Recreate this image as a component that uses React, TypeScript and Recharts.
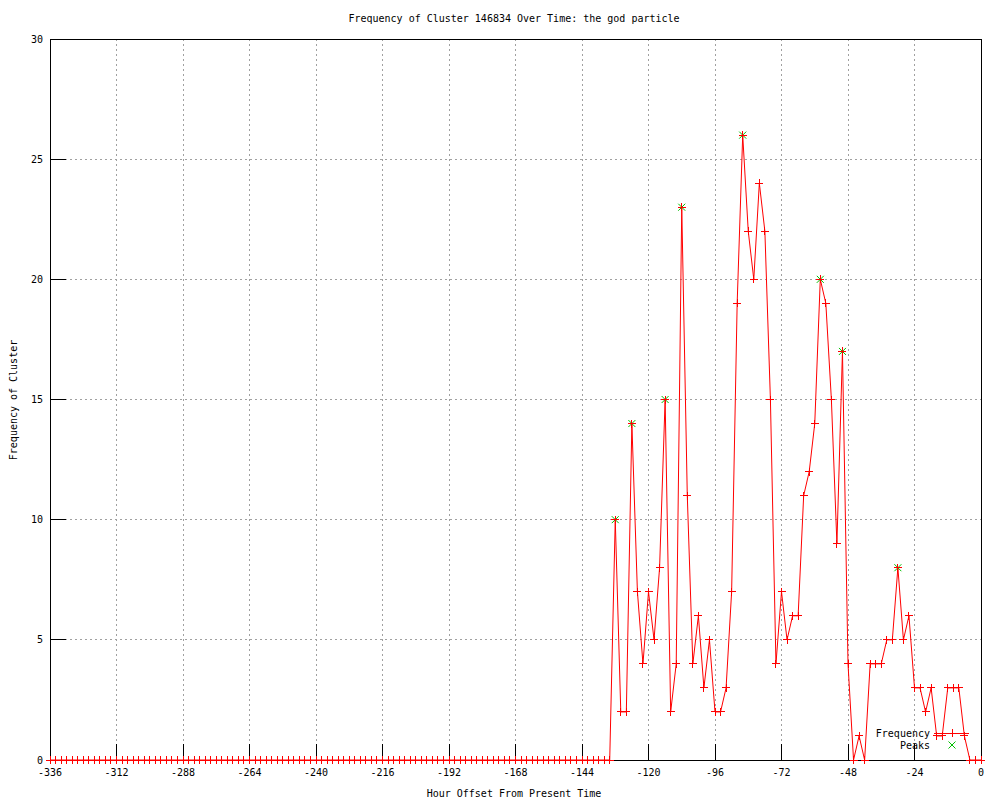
import { LineChart, Line, XAxis, YAxis, CartesianGrid, Customized } from 'recharts';

const hours = [
  -336, -334, -332, -330, -328, -326, -324, -322, -320, -318, -316, -314,
  -312, -310, -308, -306, -304, -302, -300, -298, -296, -294, -292, -290,
  -288, -286, -284, -282, -280, -278, -276, -274, -272, -270, -268, -266,
  -264, -262, -260, -258, -256, -254, -252, -250, -248, -246, -244, -242,
  -240, -238, -236, -234, -232, -230, -228, -226, -224, -222, -220, -218,
  -216, -214, -212, -210, -208, -206, -204, -202, -200, -198, -196, -194,
  -192, -190, -188, -186, -184, -182, -180, -178, -176, -174, -172, -170,
  -168, -166, -164, -162, -160, -158, -156, -154, -152, -150, -148, -146,
  -144, -142, -140, -138, -136, -134, -132, -130, -128, -126, -124, -122,
  -120, -118, -116, -114, -112, -110, -108, -106, -104, -102, -100, -98,
  -96, -94, -92, -90, -88, -86, -84, -82, -80, -78, -76, -74,
  -72, -70, -68, -66, -64, -62, -60, -58, -56, -54, -52, -50,
  -48, -46, -44, -42, -40, -38, -36, -34, -32, -30, -28, -26,
  -24, -22, -20, -18, -16, -14, -12, -10, -8, -6, -4, -2,
  0,
];

const frequency = [
  0, 0, 0, 0, 0, 0, 0, 0, 0, 0, 0, 0,
  0, 0, 0, 0, 0, 0, 0, 0, 0, 0, 0, 0,
  0, 0, 0, 0, 0, 0, 0, 0, 0, 0, 0, 0,
  0, 0, 0, 0, 0, 0, 0, 0, 0, 0, 0, 0,
  0, 0, 0, 0, 0, 0, 0, 0, 0, 0, 0, 0,
  0, 0, 0, 0, 0, 0, 0, 0, 0, 0, 0, 0,
  0, 0, 0, 0, 0, 0, 0, 0, 0, 0, 0, 0,
  0, 0, 0, 0, 0, 0, 0, 0, 0, 0, 0, 0,
  0, 0, 0, 0, 0, 0, 10, 2, 2, 14, 7, 4,
  7, 5, 8, 15, 2, 4, 23, 11, 4, 6, 3, 5,
  2, 2, 3, 7, 19, 26, 22, 20, 24, 22, 15, 4,
  7, 5, 6, 6, 11, 12, 14, 20, 19, 15, 9, 17,
  4, 0, 1, 0, 4, 4, 4, 5, 5, 8, 5, 6,
  3, 3, 2, 3, 1, 1, 3, 3, 3, 1, 0, 0,
  0,
];

const peakHours = [-132, -126, -114, -108, -86, -58, -50, -30];

const xTicks = [-336, -312, -288, -264, -240, -216, -192, -168, -144, -120, -96, -72, -48, -24, 0];
const yTicks = [0, 5, 10, 15, 20, 25, 30];

const data = hours.map((h, i) => ({
  hour: h,
  freq: frequency[i],
  peak: peakHours.includes(h) ? frequency[i] : null,
}));

const FONT = '"DejaVu Sans Mono", monospace';
const PLOT_LEFT = 50;
const PLOT_BOTTOM = 760;
const AXIS_LINE = { stroke: '#000', shapeRendering: 'crispEdges' };

function PlusDot(props: any) {
  const { cx, cy, index } = props;
  if (cx == null || cy == null) return <g key={`f-${index}`} />;
  return (
    <g key={`f-${index}`} stroke="#ff0000" strokeWidth={1} shapeRendering="crispEdges">
      <line x1={cx - 4} y1={cy} x2={cx + 4} y2={cy} />
      <line x1={cx} y1={cy - 4} x2={cx} y2={cy + 4} />
    </g>
  );
}

function CrossDot(props: any) {
  const { cx, cy, index, value } = props;
  if (cx == null || cy == null || value == null) return <g key={`p-${index}`} />;
  return (
    <g key={`p-${index}`} stroke="#00c000" strokeWidth={1}>
      <line x1={cx - 3.5} y1={cy - 3.5} x2={cx + 3.5} y2={cy + 3.5} />
      <line x1={cx - 3.5} y1={cy + 3.5} x2={cx + 3.5} y2={cy - 3.5} />
    </g>
  );
}

function XTick(props: any) {
  const { x, payload } = props;
  return (
    <text x={x} y={PLOT_BOTTOM + 16} textAnchor="middle" fontFamily={FONT} fontSize={10} fill="#000">
      {payload.value}
    </text>
  );
}

function YTick(props: any) {
  const { y, payload } = props;
  return (
    <text x={PLOT_LEFT - 7} y={y} dy="0.35em" textAnchor="end" fontFamily={FONT} fontSize={10} fill="#000">
      {payload.value}
    </text>
  );
}

const NoTick = () => <g />;

function Texts() {
  return (
    <g fontFamily={FONT} fontSize={10} fill="#000">
      <text x={514} y={22} textAnchor="middle">Frequency of Cluster 146834 Over Time: the god particle</text>
      <text x={514} y={797} textAnchor="middle">Hour Offset From Present Time</text>
      <text x={13} y={400} textAnchor="middle" dy="0.35em" transform="rotate(-90 13 400)">Frequency of Cluster</text>
      <text x={930} y={733} dy="0.35em" textAnchor="end">Frequency</text>
      <text x={930} y={745} dy="0.35em" textAnchor="end">Peaks</text>
      <g stroke="#ff0000" shapeRendering="crispEdges">
        <line x1={934} y1={733} x2={969} y2={733} />
        <line x1={948} y1={733} x2={956} y2={733} />
        <line x1={952} y1={729} x2={952} y2={737} />
      </g>
      <g stroke="#00c000">
        <line x1={948.5} y1={741.5} x2={955.5} y2={748.5} />
        <line x1={948.5} y1={748.5} x2={955.5} y2={741.5} />
      </g>
    </g>
  );
}

export default function App() {
  return (
    <div style={{ position: 'absolute', left: 0, top: 0, background: '#fff' }}>
      <LineChart width={1000} height={800} data={data} margin={{ top: 29, right: 9, bottom: 10, left: 10 }}>
        <CartesianGrid stroke="#a0a0a0" strokeDasharray="2 3" shapeRendering="crispEdges" />
        <XAxis
          dataKey="hour"
          type="number"
          domain={[-336, 0]}
          ticks={xTicks}
          interval={0}
          height={30}
          tickSize={-16}
          axisLine={AXIS_LINE}
          tickLine={AXIS_LINE}
          tick={<XTick />}
        />
        <XAxis
          xAxisId="top"
          orientation="top"
          type="number"
          domain={[-336, 0]}
          ticks={xTicks}
          interval={0}
          height={10}
          tickSize={-16}
          axisLine={AXIS_LINE}
          tickLine={AXIS_LINE}
          tick={<NoTick />}
        />
        <YAxis
          type="number"
          domain={[0, 30]}
          ticks={yTicks}
          interval={0}
          width={40}
          tickSize={-16}
          axisLine={AXIS_LINE}
          tickLine={AXIS_LINE}
          tick={<YTick />}
        />
        <YAxis
          yAxisId="right"
          orientation="right"
          type="number"
          domain={[0, 30]}
          ticks={yTicks}
          interval={0}
          width={10}
          tickSize={-16}
          axisLine={AXIS_LINE}
          tickLine={AXIS_LINE}
          tick={<NoTick />}
        />
        <Line
          type="linear"
          dataKey="peak"
          stroke="none"
          dot={(p: any) => <CrossDot {...p} key={`p-${p.index}`} />}
          activeDot={false}
          isAnimationActive={false}
        />
        <Line
          type="linear"
          dataKey="freq"
          stroke="#ff0000"
          strokeWidth={1}
          dot={(p: any) => <PlusDot {...p} key={`f-${p.index}`} />}
          activeDot={false}
          isAnimationActive={false}
        />
        <Customized component={<Texts />} />
      </LineChart>
    </div>
  );
}
